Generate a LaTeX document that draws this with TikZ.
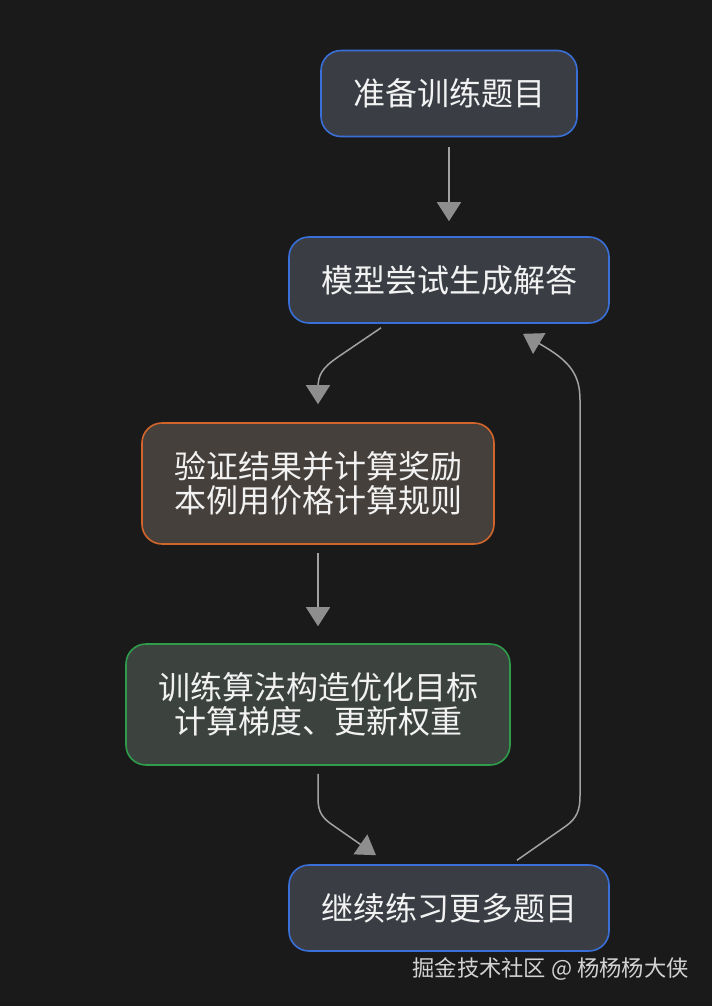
\documentclass[tikz,border=0pt]{standalone}
\usepackage{fontspec}
\newfontfamily\cjk{Noto Sans CJK SC}
\usetikzlibrary{arrows.meta}

\definecolor{bgdark}{HTML}{1A1A1A}
\definecolor{boxtext}{HTML}{F2F2F2}
\definecolor{blueline}{HTML}{3A6FD8}
\definecolor{bluefill}{HTML}{3A3E44}
\definecolor{orangeline}{HTML}{D2652B}
\definecolor{orangefill}{HTML}{45403C}
\definecolor{greenline}{HTML}{2E9C4A}
\definecolor{greenfill}{HTML}{3C433F}
\definecolor{linegray}{HTML}{A2A2A2}
\definecolor{tipgray}{HTML}{8E8E8E}
\definecolor{markgray}{HTML}{D2D2D2}

\begin{document}
\begin{tikzpicture}[x=1pt,y=-1pt,
  box/.style={draw, line width=1.6pt, rounded corners=20pt, minimum height=86pt,
    inner sep=0pt, align=center, text=boxtext, font=\cjk\fontsize{32}{34}\selectfont},
  bluebox/.style={box, draw=blueline, fill=bluefill},
  orangebox/.style={box, draw=orangeline, fill=orangefill, minimum height=121pt},
  greenbox/.style={box, draw=greenline, fill=greenfill, minimum height=121pt},
  flow/.style={draw=linegray, line width=1.5pt,
    -{Triangle[width=24pt,length=19pt,color=tipgray]}}]

\fill[bgdark] (0,0) rectangle (712,1006);
\useasboundingbox (0,0) rectangle (712,1006);

% the five steps
\node[bluebox, minimum width=256pt] (prep) at (449,93.5) {准备训练题目};
\node[bluebox, minimum width=320pt] (answer) at (449,280) {模型尝试生成解答};
\node[orangebox, minimum width=352pt] (reward) at (318,483.5) {验证结果并计算奖励\\本例用价格计算规则};
\node[greenbox, minimum width=384pt] (update) at (318,704.5) {训练算法构造优化目标\\计算梯度、更新权重};
\node[bluebox, minimum width=320pt] (more) at (449,908) {继续练习更多题目};

% connectors
\draw[flow, shorten <=10pt, shorten >=15pt] (prep.south) -- (answer.north);
\draw[flow] ([xshift=-68pt,yshift=-4pt]answer.south) -- (338,357)
  .. controls (322,368) and (318,375) .. (318,388) -- ([yshift=18pt]reward.north);
\draw[flow, shorten <=8pt, shorten >=17pt] (reward.south) -- (update.north);
\draw[flow] ([yshift=-8pt]update.south) -- (318,798)
  .. controls (318,812) and (322,818) .. (334,826) -- ([xshift=-73pt,yshift=9pt]more.north);
\draw[flow] ([xshift=68pt,yshift=4pt]more.north) -- (566,826)
  .. controls (577,818) and (580,810) .. (580,796) -- (580,400)
  .. controls (580,375) and (570,362) .. (545,347) -- ([xshift=74pt,yshift=-10pt]answer.south);

% watermark
\node[anchor=east, text=markgray, inner sep=0pt, font=\cjk\fontsize{22.3}{25}\selectfont]
  (mark) at (689,969) {掘金技术社区 @ 杨杨杨大侠};
\end{tikzpicture}
\end{document}
